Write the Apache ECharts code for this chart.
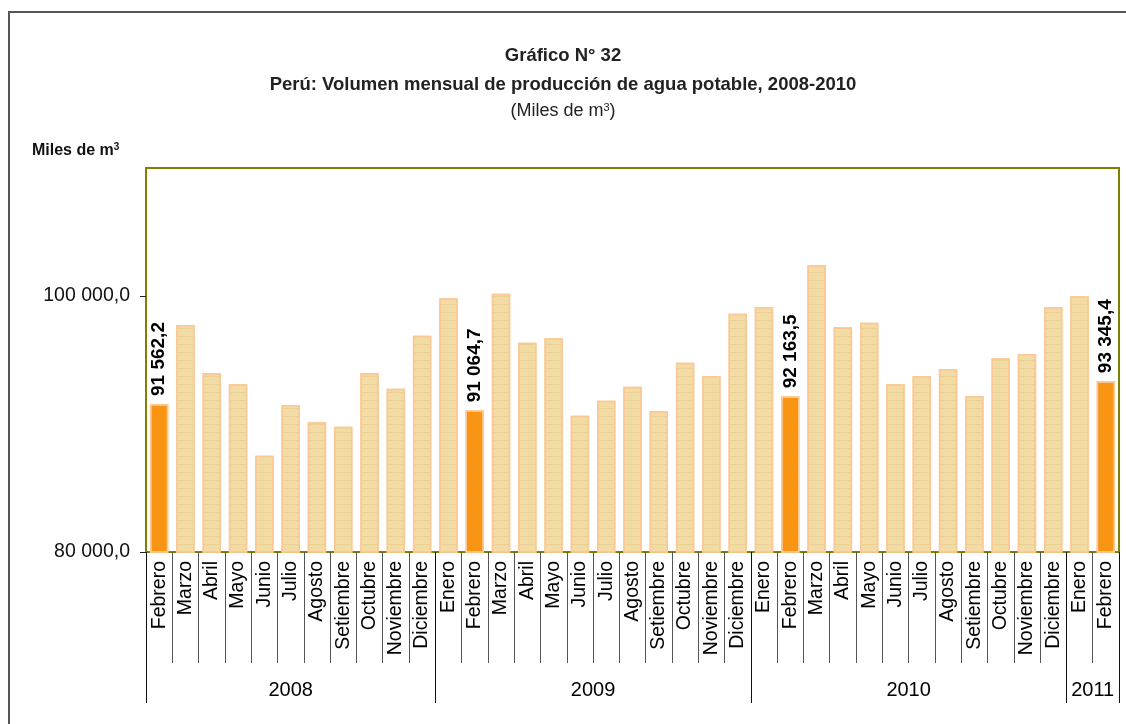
<!DOCTYPE html>
<html>
<head>
<meta charset="utf-8">
<title>Gráfico N° 32</title>
<script src="https://cdn.jsdelivr.net/npm/echarts@6/dist/echarts.min.js"></script>
<style>
  html, body { margin: 0; padding: 0; background: #fff; }
  #chart { width: 1126px; height: 724px; }
</style>
</head>
<body>
<div id="chart"></div>
<script>
// Datos: volumen mensual de producción de agua potable (miles de m3)
var months = [
  'Febrero', 'Marzo', 'Abril', 'Mayo', 'Junio', 'Julio', 'Agosto', 'Setiembre', 'Octubre', 'Noviembre', 'Diciembre',
  'Enero', 'Febrero', 'Marzo', 'Abril', 'Mayo', 'Junio', 'Julio', 'Agosto', 'Setiembre', 'Octubre', 'Noviembre', 'Diciembre',
  'Enero', 'Febrero', 'Marzo', 'Abril', 'Mayo', 'Junio', 'Julio', 'Agosto', 'Setiembre', 'Octubre', 'Noviembre', 'Diciembre',
  'Enero', 'Febrero'
];
var values = [
  91562.2, 97734, 93958, 93099, 87526, 91484, 90130, 89792, 93958, 92760, 96901,
  99818, 91064.7, 100182, 96354, 96693, 90651, 91823, 92917, 90990, 94792, 93750, 98620,
  99141, 92163.5, 102396, 97552, 97917, 93099, 93750, 94297, 92188, 95130, 95469, 99115,
  99974, 93345.4
];
var years = ['2008', '2009', '2010', '2011'];
var yearCounts = [11, 12, 12, 2];
var highlightMonth = 'Febrero';
var yTicks = [80000, 100000];

var FONT = "'Liberation Sans', Arial, sans-serif";

// formato 91 562,2
function fmt(v) {
  var parts = v.toFixed(1).split('.');
  return parts[0].replace(/\B(?=(\d{3})+(?!\d))/g, ' ') + ',' + parts[1];
}

// límites y centros de cada año
var yearBounds = [0];
var yearCenters = [];
var acc = 0;
yearCounts.forEach(function (c) {
  yearCenters.push(acc + c / 2);
  acc += c;
  yearBounds.push(acc);
});

var barData = values.map(function (v, i) {
  var hi = months[i] === highlightMonth;
  return {
    value: v,
    itemStyle: hi ? { color: '#fb9410', borderColor: '#fcc895' } : undefined,
    label: { show: hi }
  };
});

var chart = echarts.init(document.getElementById('chart'));
var option = {
  animation: false,
  textStyle: { fontFamily: FONT },
  title: [
    {
      text: 'Gráfico N° 32\nPerú: Volumen mensual de producción de agua potable, 2008-2010',
      left: 'center',
      top: 36,
      textStyle: { fontSize: 18.5, fontWeight: 'bold', color: '#222', lineHeight: 29, fontFamily: FONT }
    },
    {
      text: '(Miles de m{sup|3})',
      left: 'center',
      top: 97,
      textStyle: {
        fontSize: 18, fontWeight: 'normal', color: '#222', fontFamily: FONT,
        rich: { sup: { fontSize: 11, verticalAlign: 'top', padding: [0, 0, 8, 0], color: '#222' } }
      }
    },
    {
      text: 'Miles de m{sup|3}',
      left: 27,
      top: 137,
      textStyle: {
        fontSize: 16, fontWeight: 'bold', color: '#111', fontFamily: FONT,
        rich: { sup: { fontSize: 10, fontWeight: 'bold', padding: [0, 0, 8, 0], color: '#111' } }
      }
    }
  ],
  graphic: [
    {
      type: 'rect',
      silent: true,
      z: -10,
      shape: { x: 9, y: 12, width: 1300, height: 900 },
      style: { fill: 'none', stroke: '#555', lineWidth: 2 }
    }
  ],
  grid: {
    left: 146,
    right: 7,
    top: 168,
    bottom: 172,
    show: true,
    borderColor: '#808000',
    borderWidth: 2,
    backgroundColor: '#fff'
  },
  xAxis: [
    {
      type: 'category',
      data: months,
      position: 'bottom',
      axisLine: { show: true, lineStyle: { color: '#808000', width: 2 } },
      axisTick: { show: true, interval: 0, length: 111, lineStyle: { color: '#555', width: 1 } },
      axisLabel: {
        interval: 0,
        rotate: 90,
        margin: 9,
        fontSize: 19.5,
        color: '#000',
        fontFamily: FONT
      }
    },
    {
      type: 'value',
      position: 'bottom',
      min: 0,
      max: months.length,
      axisLine: { show: false },
      splitLine: { show: false },
      axisTick: {
        show: true,
        inside: false,
        length: 151,
        customValues: yearBounds,
        lineStyle: { color: '#111', width: 1 }
      },
      axisLabel: {
        show: true,
        margin: 128,
        fontSize: 20,
        color: '#000',
        fontFamily: FONT,
        customValues: yearCenters,
        formatter: function (v) {
          var k = yearCenters.indexOf(v);
          return k >= 0 ? years[k] : '';
        }
      }
    }
  ],
  yAxis: {
    type: 'value',
    min: yTicks[0],
    max: 110000,
    interval: yTicks[1] - yTicks[0],
    axisLine: { show: true, lineStyle: { color: '#808000', width: 2 } },
    axisTick: { show: true, length: 6, lineStyle: { color: '#222' } },
    splitLine: { show: false },
    axisLabel: {
      showMaxLabel: false,
      margin: 16,
      fontSize: 19.5,
      color: '#111',
      fontFamily: FONT,
      formatter: function (v) { return fmt(v); }
    }
  },
  series: [
    {
      type: 'bar',
      xAxisIndex: 0,
      yAxisIndex: 0,
      barWidth: '70%',
      data: barData,
      itemStyle: {
        color: '#f3dba4',
        borderColor: '#fcc895',
        borderWidth: 1.5,
        decal: {
          symbol: 'rect',
          symbolSize: 1,
          color: 'rgba(180,150,80,0.16)',
          dashArrayX: [[1, 0]],
          dashArrayY: [1, 7],
          rotation: 0
        }
      },
      label: {
        show: false,
        position: 'top',
        rotate: 90,
        align: 'left',
        verticalAlign: 'middle',
        distance: 8,
        fontSize: 19,
        fontWeight: 'bold',
        color: '#000',
        fontFamily: FONT,
        formatter: function (p) { return fmt(p.value); }
      }
    }
  ]
};
chart.setOption(option);

window.addEventListener('resize', function () {
  chart.resize();
});
</script>
</body>
</html>
